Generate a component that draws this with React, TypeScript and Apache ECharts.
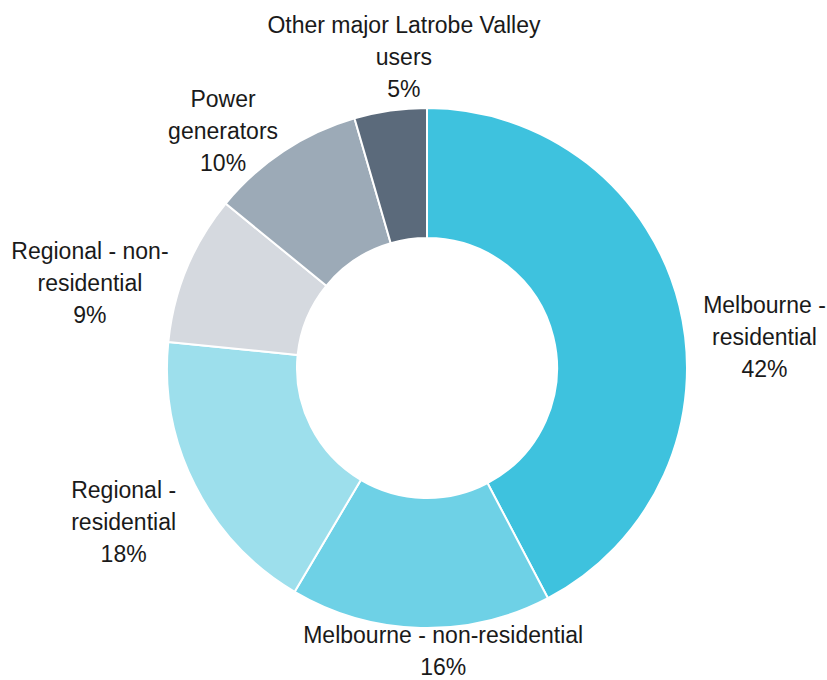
import React, { useEffect, useRef } from "react";
import * as echarts from "echarts";

const categories = [
  "Melbourne - residential",
  "Melbourne - non-residential",
  "Regional - residential",
  "Regional - non-residential",
  "Power generators",
  "Other major Latrobe Valley users",
];
const labelLines = [
  ["Melbourne -", "residential"],
  ["Melbourne - non-residential"],
  ["Regional -", "residential"],
  ["Regional - non-", "residential"],
  ["Power", "generators"],
  ["Other major Latrobe Valley", "users"],
];
const shares = [42.3, 16.2, 18.1, 9.3, 9.6, 4.5];
const colors = ["#3EC2DE", "#6ED1E6", "#9DDFEC", "#D5D9DF", "#9CAAB7", "#5B6A7B"];

// label nudges relative to the library's default outside anchor
// hug: block edge sits at the anchor (side labels); otherwise block is centred on the anchor
const labelNudge = [
  { hug: true, dx: 9, dy: 34 },
  { hug: false, dx: 28, dy: 13 },
  { hug: true, dx: -5, dy: 32 },
  { hug: true, dx: -4, dy: 18 },
  { hug: true, dx: 5, dy: -12 },
  { hug: false, dx: 20, dy: -44 },
];

const FONT = "'Liberation Sans', Arial, sans-serif";

export default function App() {
  const ref = useRef<HTMLDivElement>(null);
  useEffect(() => {
    if (!ref.current) return;
    const chart = echarts.init(ref.current, undefined, { renderer: "svg" });
    chart.setOption({
      animation: false,
      backgroundColor: "#ffffff",
      series: [
        {
          type: "pie",
          center: [427, 368],
          radius: [130, 260],
          startAngle: 90,
          clockwise: true,
          avoidLabelOverlap: false,
          itemStyle: { borderColor: "#ffffff", borderWidth: 2 },
          label: {
            show: true,
            position: "outside",
            fontFamily: FONT,
            fontSize: 23,
            lineHeight: 32,
            color: "#1a1a1a",
            formatter: (p: any) =>
              [...labelLines[p.dataIndex], Math.round(p.value) + "%"].join("\n"),
          },
          labelLine: { show: false, length: 10, length2: 0 },
          labelLayout: (p: any) => {
            const r = p.labelRect;
            const left = p.align === "left";
            const ax = left ? r.x : r.x + r.width;
            const ay = r.y + r.height / 2;
            const n = labelNudge[p.dataIndex];
            const cx = n.hug ? ax + (left ? r.width / 2 : -r.width / 2) + n.dx : ax + n.dx;
            return {
              x: cx,
              y: ay + n.dy,
              align: "center",
              verticalAlign: "middle",
            };
          },
          emphasis: { disabled: true },
          data: categories.map((name, i) => ({
            name,
            value: shares[i],
            itemStyle: { color: colors[i] },
          })),
        },
      ],
    });
    return () => chart.dispose();
  }, []);
  return (
    <div
      ref={ref}
      style={{ position: "absolute", left: 0, top: 0, width: 827, height: 680 }}
    />
  );
}
